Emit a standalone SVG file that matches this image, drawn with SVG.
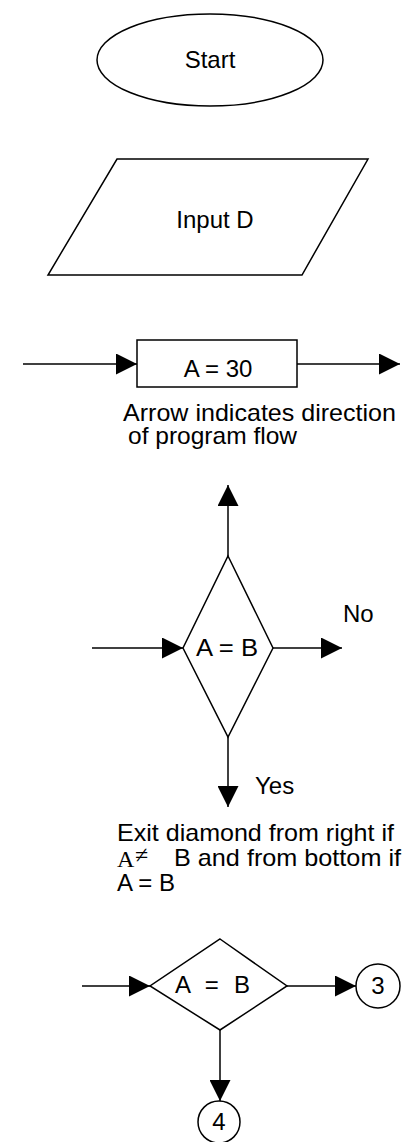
<svg xmlns="http://www.w3.org/2000/svg" width="406" height="1142" viewBox="0 0 406 1142">
<defs>
<style>
.s{fill:#fff;stroke:#000;stroke-width:1.5}
.c line{stroke:#000;stroke-width:1.5;marker-end:url(#ah)}
text{font-family:"Liberation Sans",Arial,sans-serif;font-size:24px;fill:#000}
.m{text-anchor:middle}
.serif{font-family:"Liberation Serif","Times New Roman",serif}
</style>
<marker id="ah" viewBox="0 0 20 20" refX="20" refY="10" markerWidth="21" markerHeight="21" markerUnits="userSpaceOnUse" orient="auto">
<path d="M0,0 L20,10 L0,20 z" fill="#000"/>
</marker>
</defs>
<rect width="406" height="1142" fill="#fff"/>
<g id="start">
<ellipse class="s" cx="210" cy="60" rx="113" ry="46"/>
<text class="m" x="210" y="68">Start</text>
</g>
<g id="input">
<polygon class="s" points="117,159 368,159 302,275 48,275"/>
<text class="m" x="215" y="228">Input D</text>
</g>
<g id="process">
<rect class="s" x="137" y="340" width="160" height="47"/>
<text class="m" x="218" y="377">A = 30</text>
</g>
<g id="note1">
<text x="123" y="421" font-size="23" textLength="273" lengthAdjust="spacingAndGlyphs">Arrow indicates direction</text>
<text x="128" y="444" font-size="23" textLength="169" lengthAdjust="spacingAndGlyphs">of program flow</text>
</g>
<g id="decision1">
<polygon class="s" points="228,556 273,648 228,737 183,648"/>
<text class="m" x="227" y="656" textLength="62" lengthAdjust="spacingAndGlyphs">A = B</text>
</g>
<g id="labels1">
<text x="343" y="622">No</text>
<text x="255" y="794">Yes</text>
</g>
<g id="note2">
<text x="117" y="841" font-size="23" textLength="277" lengthAdjust="spacingAndGlyphs">Exit diamond from right if</text>
<text class="serif" x="117" y="867" font-size="21">A</text>
<text class="serif" x="135" y="863" font-size="16">≠</text>
<text x="174" y="866" font-size="23" textLength="227" lengthAdjust="spacingAndGlyphs">B and from bottom if</text>
<text x="117" y="891" font-size="23">A = B</text>
</g>
<g id="decision2">
<polygon class="s" points="220,939 287,986 220,1030 150,986"/>
<text x="175" y="993" textLength="75" lengthAdjust="spacing">A = B</text>
</g>
<g id="conn3">
<circle class="s" cx="378" cy="986" r="22"/>
<text class="m" x="378" y="994" font-size="21">3</text>
</g>
<g id="conn4">
<circle class="s" cx="219" cy="1122" r="21"/>
<text class="m" x="219" y="1130" font-size="21">4</text>
</g>
<g id="connectors" class="c">
<line x1="23" y1="364" x2="137" y2="364"/>
<line x1="297" y1="364" x2="400" y2="364"/>
<line x1="228" y1="556" x2="228" y2="485"/>
<line x1="92" y1="648" x2="183" y2="648"/>
<line x1="273" y1="648" x2="342" y2="648"/>
<line x1="228" y1="737" x2="228" y2="807"/>
<line x1="82" y1="986" x2="150" y2="986"/>
<line x1="287" y1="986" x2="356" y2="986"/>
<line x1="220" y1="1030" x2="220" y2="1101"/>
</g>
</svg>
